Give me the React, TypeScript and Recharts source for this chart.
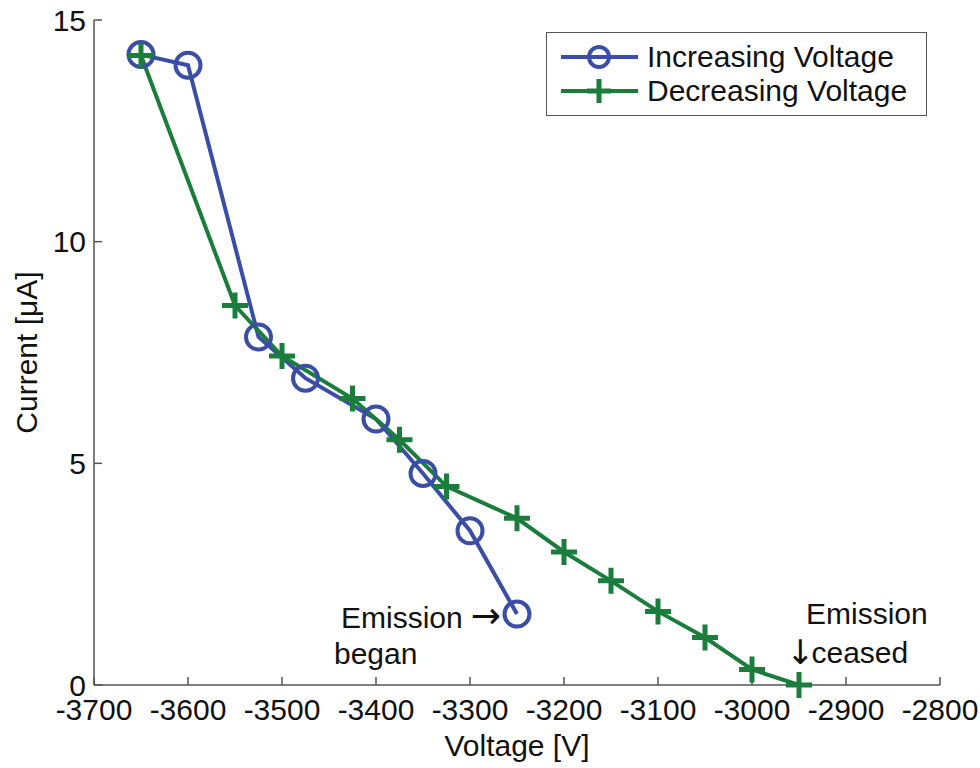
import React from "react";
import {
  LineChart,
  Line,
  XAxis,
  YAxis,
  Legend,
  ReferenceDot,
} from "recharts";

// values
const increasingVoltage = [-3650, -3600, -3525, -3475, -3400, -3350, -3300, -3250];
const increasingCurrent = [14.22, 13.98, 7.85, 6.92, 6.0, 4.77, 3.48, 1.6];

const decreasingVoltage = [
  -3650, -3550, -3500, -3425, -3375, -3325, -3250, -3200, -3150, -3100, -3050,
  -3000, -2950,
];
const decreasingCurrent = [
  14.2, 8.56, 7.42, 6.46, 5.53, 4.48, 3.76, 3.0, 2.35, 1.66, 1.07, 0.35, 0,
];

const xTicks = [-3700, -3600, -3500, -3400, -3300, -3200, -3100, -3000, -2900, -2800];
const yTicks = [0, 5, 10, 15];

const BLUE = "#3a4ea7";
const GREEN = "#1b7d3b";
const FONT = "'Liberation Sans', Arial, Helvetica, sans-serif";
const ARROW_FONT = "'DejaVu Sans', sans-serif";
const FS = 30;

const increasing = increasingVoltage.map((v, i) => ({ voltage: v, current: increasingCurrent[i] }));
const decreasing = decreasingVoltage.map((v, i) => ({ voltage: v, current: decreasingCurrent[i] }));

const CircleDot = (props: any) => {
  const { cx, cy, index } = props;
  if (cx == null || cy == null) return <g key={index} />;
  return <circle key={index} cx={cx} cy={cy} r={12.5} fill="none" stroke={BLUE} strokeWidth={4} />;
};

const PlusDot = (props: any) => {
  const { cx, cy, index } = props;
  if (cx == null || cy == null) return <g key={index} />;
  return (
    <path
      key={index}
      d={`M${cx - 13},${cy}H${cx + 13}M${cx},${cy - 13}V${cy + 13}`}
      stroke={GREEN}
      strokeWidth={5}
      fill="none"
    />
  );
};

const LegendBox = () => (
  <div
    style={{
      width: 381,
      height: 84,
      border: "1.5px solid #555",
      background: "#fff",
      fontFamily: FONT,
      fontSize: FS,
      color: "#111",
      boxSizing: "border-box",
      paddingTop: 7,
    }}
  >
    {[
      { name: "Increasing Voltage", color: BLUE, marker: "circle" },
      { name: "Decreasing Voltage", color: GREEN, marker: "plus" },
    ].map((item) => (
      <div key={item.name} style={{ display: "flex", alignItems: "center", height: 34 }}>
        <svg width={100} height={34}>
          <line x1={14} x2={91} y1={17} y2={17} stroke={item.color} strokeWidth={4} />
          {item.marker === "circle" ? (
            <circle cx={52} cy={17} r={10} fill="none" stroke={item.color} strokeWidth={4} />
          ) : (
            <path d="M40,17H64M52,5V29" stroke={item.color} strokeWidth={5} />
          )}
        </svg>
        <span style={{ lineHeight: "34px" }}>{item.name}</span>
      </div>
    ))}
  </div>
);

const tickStyle = { fontSize: FS, fill: "#111", fontFamily: FONT };

export default function App() {
  return (
    <div style={{ position: "absolute", left: 0, top: 0, background: "#fff" }}>
      <LineChart
        width={980}
        height={768}
        margin={{ top: 20, right: 40, bottom: 33, left: 34 }}
      >
        <XAxis
          dataKey="voltage"
          type="number"
          domain={[-3700, -2800]}
          ticks={xTicks}
          allowDataOverflow
          height={50}
          tickSize={-8}
          tickMargin={22}
          tick={tickStyle}
          stroke="#555"
          strokeWidth={1.5}
          label={{
            content: ({ viewBox }: any) => (
              <text
                x={viewBox.x + viewBox.width / 2}
                y={viewBox.y + 60}
                textAnchor="middle"
                dominantBaseline="central"
                fontSize={FS}
                fontFamily={FONT}
                fill="#111"
              >
                Voltage [V]
              </text>
            ),
          }}
        />
        <XAxis
          xAxisId="top"
          orientation="top"
          type="number"
          domain={[-3700, -2800]}
          ticks={xTicks}
          allowDataOverflow
          height={0}
          tickSize={-8}
          tick={false}
          stroke="#555"
          strokeWidth={1.5}
        />
        <YAxis
          type="number"
          domain={[0, 15]}
          ticks={yTicks}
          width={60}
          tickSize={-8}
          tickMargin={16}
          tick={tickStyle}
          stroke="#555"
          strokeWidth={1.5}
          label={{
            content: ({ viewBox }: any) => {
              const x = viewBox.x - 8;
              const y = viewBox.y + viewBox.height / 2;
              return (
                <text
                  x={x}
                  y={y}
                  transform={`rotate(-90, ${x}, ${y})`}
                  textAnchor="middle"
                  dominantBaseline="central"
                  fontSize={FS}
                  fontFamily={FONT}
                  fill="#111"
                >
                  Current [μA]
                </text>
              );
            },
          }}
        />
        <YAxis
          yAxisId="right"
          orientation="right"
          type="number"
          domain={[0, 15]}
          ticks={yTicks}
          width={0}
          tickSize={-8}
          tick={false}
          stroke="#555"
          strokeWidth={1.5}
        />
        <Legend
          layout="horizontal"
          verticalAlign="middle"
          align="center"
          content={() => <LegendBox />}
          wrapperStyle={{ position: "absolute", left: 546, top: 32, width: 381 }}
        />
        <Line
          data={increasing}
          dataKey="current"
          name="Increasing Voltage"
          stroke={BLUE}
          strokeWidth={4}
          dot={CircleDot}
          activeDot={false}
          isAnimationActive={false}
        />
        <Line
          data={decreasing}
          dataKey="current"
          name="Decreasing Voltage"
          stroke={GREEN}
          strokeWidth={4}
          dot={PlusDot}
          activeDot={false}
          isAnimationActive={false}
        />
        <ReferenceDot
          x={increasingVoltage[increasingVoltage.length - 1]}
          y={increasingCurrent[increasingCurrent.length - 1]}
          r={0}
          fill="none"
          stroke="none"
          label={({ viewBox }: any) => (
            <g fill="#111">
              <text x={viewBox.x - 176} y={viewBox.y + 3} dominantBaseline="central" fontFamily={FONT} fontSize={FS}>
                Emission
                <tspan dx={8} dy={-2} fontFamily={ARROW_FONT} fontSize={36}>
                  →
                </tspan>
              </text>
              <text x={viewBox.x - 183} y={viewBox.y + 39} dominantBaseline="central" fontFamily={FONT} fontSize={FS}>
                began
              </text>
            </g>
          )}
        />
        <ReferenceDot
          x={decreasingVoltage[decreasingVoltage.length - 1]}
          y={decreasingCurrent[decreasingCurrent.length - 1]}
          r={0}
          fill="none"
          stroke="none"
          label={({ viewBox }: any) => (
            <g fill="#111">
              <text x={viewBox.x + 7} y={viewBox.y - 72} dominantBaseline="central" fontFamily={FONT} fontSize={FS}>
                Emission
              </text>
              <text x={viewBox.x - 13} y={viewBox.y - 33} dominantBaseline="central" fontFamily={ARROW_FONT} fontSize={34}>
                ↓
                <tspan dx={-3} fontFamily={FONT} fontSize={FS}>
                  ceased
                </tspan>
              </text>
            </g>
          )}
        />
      </LineChart>
    </div>
  );
}
